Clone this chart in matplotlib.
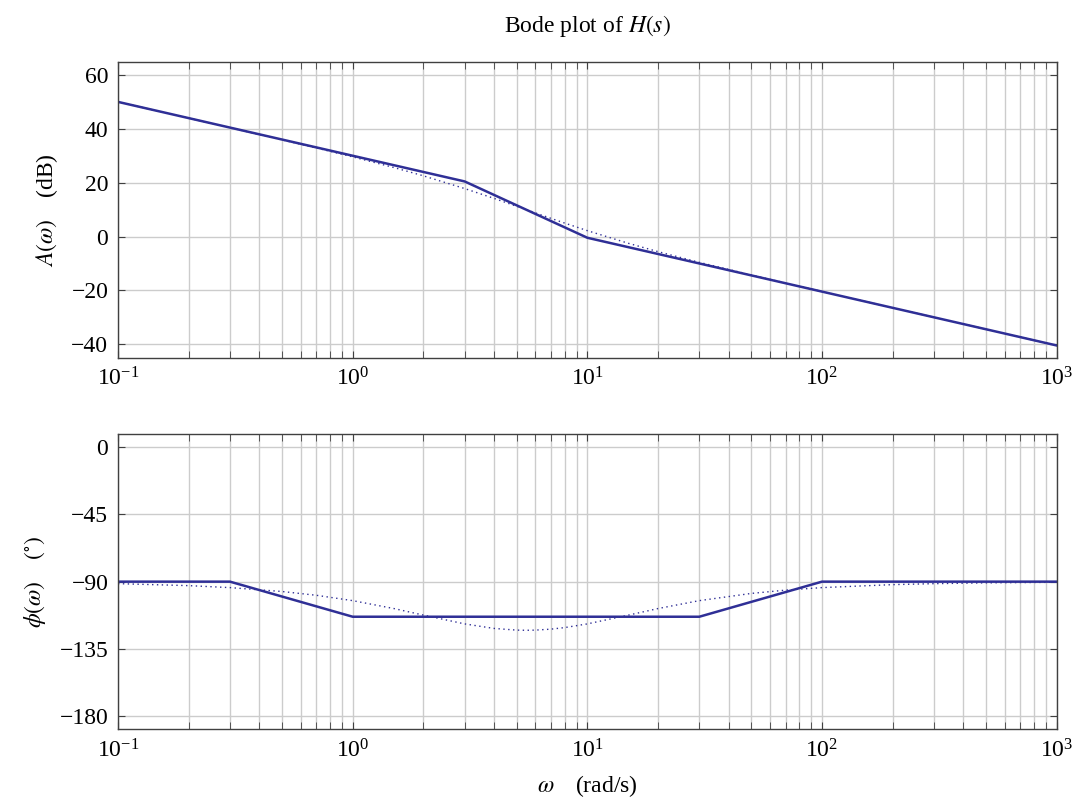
import matplotlib
matplotlib.use('Agg')
import matplotlib.pyplot as plt
from matplotlib.ticker import LogLocator, NullFormatter

plt.rcParams['font.family'] = ['Liberation Serif', 'DejaVu Serif']
plt.rcParams['mathtext.fontset'] = 'stix'

# asymptotic (straight-line) approximation
w_mag_asym = [0.1, 3, 10, 1000]
mag_asym = [50.0, 20.46, -0.46, -40.46]
w_ph_asym = [0.1, 0.3, 1, 30, 100, 1000]
ph_asym = [-90.0, -90.0, -113.5, -113.5, -90.0, -90.0]

# exact response
w_exact = [0.1, 0.2, 0.3, 0.5, 0.7, 1, 1.5, 2, 3, 4, 5, 5.5, 6, 7, 8, 10,
           15, 20, 30, 50, 70, 100, 200, 300, 500, 1000]
mag_exact = [50.0, 43.96, 40.42, 35.91, 32.89, 29.59, 25.61, 22.55, 17.82,
             14.17, 11.22, 10.0, 8.78, 6.74, 5.00, 2.18, -2.55, -5.61, -9.59,
             -14.28, -17.28, -20.42, -26.47, -29.99, -34.44, -40.46]
ph_exact = [-91.34, -92.67, -93.99, -96.60, -99.13, -102.72, -108.03, -112.38,
            -118.30, -121.33, -122.47, -122.58, -122.47, -121.81, -120.78,
            -118.30, -112.38, -108.03, -102.72, -97.88, -95.68, -93.99, -92.00,
            -91.34, -90.80, -90.40]

col = '#2f2f96'
grid_col = '#cccccc'
fs = 17

fig = plt.figure(figsize=(10.78, 8), dpi=100)
ax1 = fig.add_axes([118 / 1078, 1 - 357.7 / 800, 938.7 / 1078, 295.4 / 800])
ax2 = fig.add_axes([118 / 1078, 1 - 729.3 / 800, 938.7 / 1078, 295.3 / 800])

ax1.plot(w_exact, mag_exact, color=col, lw=1.0, ls=(0, (1, 2.5)))
ax1.plot(w_mag_asym, mag_asym, color=col, lw=1.8)
ax2.plot(w_exact, ph_exact, color=col, lw=1.0, ls=(0, (1, 2.5)))
ax2.plot(w_ph_asym, ph_asym, color=col, lw=1.8)

ax1.set_ylim(-45, 64.7)
ax1.set_yticks([-40, -20, 0, 20, 40, 60])
ax2.set_ylim(-188.9, 8.9)
ax2.set_yticks([0, -45, -90, -135, -180])

for ax in (ax1, ax2):
    ax.set_xscale('log')
    ax.set_xlim(0.1, 1000)
    ax.xaxis.set_minor_locator(LogLocator(subs=range(2, 10)))
    ax.xaxis.set_minor_formatter(NullFormatter())
    ax.grid(True, which='major', color=grid_col, lw=1.0)
    ax.grid(True, which='minor', axis='x', color=grid_col, lw=1.0)
    ax.set_axisbelow(True)
    ax.tick_params(which='both', direction='in', top=True, right=True,
                   color='#404040', labelsize=fs, pad=7)
    ax.tick_params(which='major', length=5)
    ax.tick_params(which='minor', length=5)
    for s in ax.spines.values():
        s.set_color('#404040')
        s.set_linewidth(1.0)

ax1.set_title('Bode plot of $H(s)$', fontsize=fs, pad=22)
ax1.set_ylabel(r'$A(\omega)\quad\;$(dB)', fontsize=fs, labelpad=8)
ax2.set_ylabel(r'$\phi(\omega)\quad\;(^{\circ})$', fontsize=fs, labelpad=8)
ax2.set_xlabel(r'$\omega\quad\;$(rad/s)', fontsize=fs, labelpad=8)

fig.savefig('out.png', dpi=100)
